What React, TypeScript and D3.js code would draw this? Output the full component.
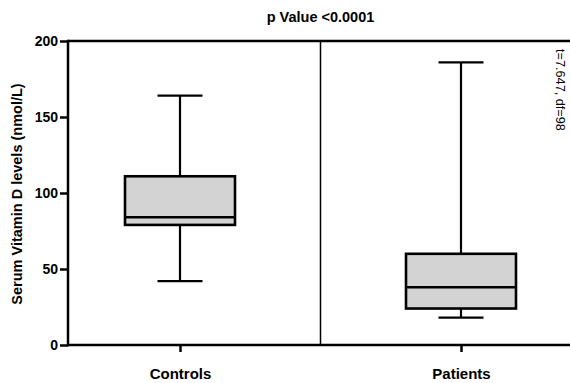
import React, { useRef, useEffect } from 'react';
import * as d3 from 'd3';

const width = 570;
const height = 383;

const categories = ['Controls', 'Patients'];
const whiskerMin = [42, 18];
const q1 = [79, 24];
const median = [84, 38];
const q3 = [111, 60];
const whiskerMax = [164, 186];
const yTicks = [0, 50, 100, 150, 200];

const title = 'p Value <0.0001';
const yLabel = 'Serum  Vitamin D levels (nmol/L)';
const statText = 't=7.647, df=98';

export default function App() {
  const svgRef = useRef<SVGSVGElement>(null);

  useEffect(() => {
    const svg = d3.select(svgRef.current);
    svg.selectAll('*').remove();
    const font = 'Arial, "Liberation Sans", sans-serif';

    const x = d3.scalePoint<string>().domain(categories).range([180, 461]);
    const y = d3.scaleLinear().domain([0, 200]).range([345, 41]);
    const left = 68;
    const boxW = 110;
    const capW = 45;

    const data = categories.map((c, i) => ({
      name: c, min: whiskerMin[i], q1: q1[i], med: median[i], q3: q3[i], max: whiskerMax[i],
    }));

    // frame
    const frame = svg.append('g').attr('stroke', '#000').attr('stroke-width', 2.5).attr('fill', 'none');
    frame.append('line').attr('x1', left).attr('x2', width).attr('y1', y(200)).attr('y2', y(200));
    frame.append('line').attr('x1', left).attr('x2', width).attr('y1', y(0)).attr('y2', y(0));
    frame.append('line').attr('x1', left).attr('x2', left).attr('y1', y(200) - 1.25).attr('y2', y(0) + 1.25);
    const mid = ((x('Controls') as number) + (x('Patients') as number)) / 2;
    svg.append('line').attr('x1', mid).attr('x2', mid).attr('y1', y(200)).attr('y2', y(0))
      .attr('stroke', '#000').attr('stroke-width', 1.5);

    // y axis
    const yAxis = svg.append('g').attr('transform', `translate(${left},0)`)
      .call(d3.axisLeft(y).tickValues(yTicks).tickSize(8).tickPadding(2));
    yAxis.select('.domain').remove();
    yAxis.selectAll('line').attr('stroke', '#000').attr('stroke-width', 2.5);
    yAxis.selectAll('text').attr('font-family', font).attr('font-size', 14).attr('font-weight', 'bold').attr('fill', '#000');

    // x axis
    const xAxis = svg.append('g').attr('transform', `translate(0,${y(0)})`)
      .call(d3.axisBottom(x).tickSize(7).tickPadding(16));
    xAxis.select('.domain').remove();
    xAxis.selectAll('line').attr('stroke', '#000').attr('stroke-width', 2.5);
    xAxis.selectAll('text').attr('font-family', font).attr('font-size', 15).attr('font-weight', 'bold').attr('fill', '#000');

    // boxes
    const g = svg.append('g').attr('stroke', '#000').attr('stroke-width', 2.2);
    const box = g.selectAll('g.box').data(data).join('g').attr('class', 'box');
    box.append('line')
      .attr('x1', d => x(d.name) as number).attr('x2', d => x(d.name) as number)
      .attr('y1', d => y(d.max)).attr('y2', d => y(d.q3));
    box.append('line')
      .attr('x1', d => x(d.name) as number).attr('x2', d => x(d.name) as number)
      .attr('y1', d => y(d.q1)).attr('y2', d => y(d.min));
    box.append('line')
      .attr('x1', d => (x(d.name) as number) - capW / 2).attr('x2', d => (x(d.name) as number) + capW / 2)
      .attr('y1', d => y(d.max)).attr('y2', d => y(d.max));
    box.append('line')
      .attr('x1', d => (x(d.name) as number) - capW / 2).attr('x2', d => (x(d.name) as number) + capW / 2)
      .attr('y1', d => y(d.min)).attr('y2', d => y(d.min));
    box.append('rect')
      .attr('x', d => (x(d.name) as number) - boxW / 2).attr('width', boxW)
      .attr('y', d => y(d.q3)).attr('height', d => y(d.q1) - y(d.q3))
      .attr('fill', '#d3d3d3').attr('stroke-width', 2.6);
    box.append('line')
      .attr('x1', d => (x(d.name) as number) - boxW / 2).attr('x2', d => (x(d.name) as number) + boxW / 2)
      .attr('y1', d => y(d.med)).attr('y2', d => y(d.med)).attr('stroke-width', 2.6);

    // title
    svg.append('text').attr('x', mid).attr('y', 22).attr('text-anchor', 'middle')
      .attr('font-family', font).attr('font-size', 14.5).attr('font-weight', 'bold').text(title);

    // y label
    svg.append('text').attr('transform', `translate(22,194) rotate(-90)`).attr('text-anchor', 'middle')
      .attr('font-family', font).attr('font-size', 14.5).attr('font-weight', 'bold').text(yLabel);

    // stat text
    svg.append('text').attr('transform', `translate(556,49) rotate(90)`).attr('text-anchor', 'start')
      .attr('font-family', font).attr('font-size', 12.7).text(statText);
  }, []);

  return (
    <svg ref={svgRef} width={width} height={height}
      style={{ position: 'absolute', left: 0, top: 0, background: '#fff' }} />
  );
}
